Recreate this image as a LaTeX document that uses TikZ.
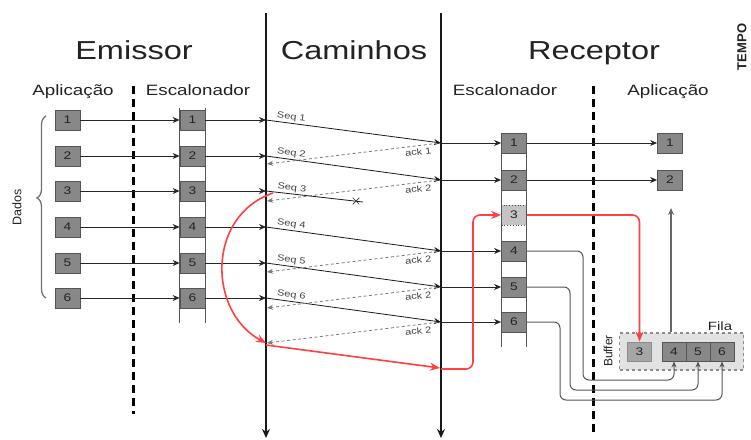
\documentclass[tikz,border=0pt]{standalone}
\usepackage{fontspec}
\setmainfont{Liberation Sans}[FakeStretch=1.25]
\newfontfamily\rotfont{Liberation Sans}
\usetikzlibrary{arrows.meta,decorations.pathreplacing,calc,shapes.misc}
\definecolor{boxfill}{HTML}{888888}
\definecolor{boxline}{HTML}{555555}
\definecolor{lightfill}{HTML}{C4C4C4}
\definecolor{buffill}{HTML}{E2E2E2}
\definecolor{redline}{HTML}{FF4040}
\definecolor{ackcol}{HTML}{7A7A7A}
\definecolor{txt}{HTML}{222222}
\begin{document}
\begin{tikzpicture}[x=1pt,y=-1pt,
  pkt/.style={draw=boxline, fill=boxfill, minimum width=25pt, minimum height=20pt, inner sep=0pt,
    font=\fontsize{11}{11}\selectfont, text=txt, line width=0.8pt},
  lightpkt/.style={pkt, fill=lightfill, dotted, draw=black!70},
  bufpkt/.style={pkt, minimum width=24pt, minimum height=19pt},
  title/.style={font=\fontsize{26}{28}\selectfont, text=txt, anchor=base, inner sep=0pt},
  subtitle/.style={font=\fontsize{15}{17}\selectfont, text=txt, anchor=base, inner sep=0pt},
  arr/.style={-{Stealth[length=7pt,width=6pt]}, line width=0.8pt, draw=black!85},
  seqarr/.style={-{Stealth[length=7pt,width=6pt]}, line width=0.8pt, draw=black!90},
  ackarr/.style={{Stealth[length=6pt,width=5pt]}-, line width=0.8pt, draw=ackcol, dash pattern=on 3pt off 2.5pt},
  seqlbl/.style={font=\fontsize{8.8}{9}\selectfont, text=black!75, inner sep=1pt},
  timeline/.style={-{Stealth[length=9pt,width=8pt]}, line width=1.8pt, draw=black!90},
  sepline/.style={line width=3pt, draw=black, dash pattern=on 8pt off 5pt},
  colline/.style={line width=1pt, draw=boxline},
  redarr/.style={-{Stealth[length=10pt,width=8pt]}, line width=1.6pt, draw=redline},
  gline/.style={-{Stealth[length=6pt,width=5pt]}, line width=1pt, draw=boxline, rounded corners=6pt},
  lbl/.style={font=\fontsize{12}{13}\selectfont, text=txt, inner sep=0pt}
]
\useasboundingbox (0,0) rectangle (751,439);

% titles
\node[title] (emissor) at (134,59) {Emissor};
\node[title] (caminhos) at (354,59) {Caminhos};
\node[title] (receptor) at (594,59) {Receptor};
\node[font=\rotfont\bfseries\fontsize{13}{13}\selectfont, rotate=90, text=txt, inner sep=0pt] (tempo) at (742,47) {TEMPO};
\node[subtitle] (sapl) at (73,95) {Aplicação};
\node[subtitle] (sesc) at (198,95) {Escalonador};
\node[subtitle] (resc) at (505,95) {Escalonador};
\node[subtitle] (rapl) at (668,95) {Aplicação};

% separators
\coordinate (s1t) at (133,86); \coordinate (s1b) at (133,414);
\coordinate (s2t) at (593,86); \coordinate (s2b) at (593,432);
\draw[sepline] (s1t) -- (s1b);
\draw[sepline] (s2t) -- (s2b);

% time lines
\coordinate (t1t) at (266,13); \coordinate (t1b) at (266,438);
\coordinate (t2t) at (441,13); \coordinate (t2b) at (441,438);
\draw[timeline] (t1t) -- (t1b);
\draw[timeline] (t2t) -- (t2b);

% sender
\foreach \i/\y in {1/120,2/156,3/191,4/227,5/263,6/298}{
  \node[pkt] (sa\i) at (67.5,\y) {\i};
  \node[pkt] (ss\i) at (192.5,\y) {\i};
  \coordinate (L\i) at (266,\y);
}
\draw[colline] ($(ss1.north west)+(0,-2)$) -- ($(ss6.south west)+(0,15)$);
\draw[colline] ($(ss1.north east)+(0,-2)$) -- ($(ss6.south east)+(0,15)$);
\foreach \i in {1,...,6}{
  \draw[arr] (sa\i) -- (ss\i);
  \draw[arr] (ss\i) -- (L\i);
}
% brace
\coordinate (brb) at (46,298); \coordinate (brt) at (46,116);
\draw[decorate, decoration={brace, amplitude=9pt, aspect=0.55}, line width=1.3pt, draw=black!55] (brb) -- (brt);
\node[font=\rotfont\fontsize{12.5}{13}\selectfont, rotate=90, text=txt, inner sep=0pt] (dados) at (17,207) {Dados};

% receptor
\foreach \i/\y in {1/143,2/180,3/215,4/251,5/287,6/322}{
  \coordinate (M\i) at (441,\y);
}
\foreach \i/\y in {1/143,2/180,4/251,5/287,6/322}{
  \node[pkt] (rb\i) at (514,\y) {\i};
}
\node[lightpkt] (rb3) at (514,215) {3};
\draw[colline] (rb1.north west) -- ($(rb6.south west)+(0,15)$);
\draw[colline] (rb1.north east) -- ($(rb6.south east)+(0,15)$);
\node[pkt] (ra1) at (670,143) {1};
\node[pkt] (ra2) at (670,180) {2};

% seq arrows
\foreach \i in {1,2,4,5,6}{
  \draw[seqarr] (L\i) -- node[seqlbl, pos=0.14, above=0.5pt, sloped] {Seq \i} (M\i);
  \draw[arr] (M\i) -- (rb\i);
}
\coordinate (lost) at (363,202);
\draw[line width=0.8pt, draw=black!90] (L3) -- node[seqlbl, pos=0.26, above=0.5pt, sloped] {Seq 3} (lost);
\node[draw=black!80, cross out, minimum size=6pt, inner sep=0pt, line width=0.7pt] (xmark) at (356,201) {};

% acks
\foreach \n/\y/\t in {a1/143/ack 1,a2/180/ack 2,a4/251/ack 2,a5/287/ack 2,a6/322/ack 2}{
  \coordinate (\n l) at (267,\y+21);
  \coordinate (\n r) at (440,\y);
  \draw[ackarr] (\n l) -- node[seqlbl, pos=0.87, below=1.5pt, sloped] {\t} (\n r);
}

% to receptor app
\draw[arr] (rb1) -- (ra1);
\draw[arr] (rb2) -- (ra2);

% buffer
\node[draw=black!45, fill=buffill, dashed, line width=1.5pt, minimum width=124pt, minimum height=37pt, inner sep=0pt] (buf) at (681.5,351.5) {};
\node[bufpkt, fill=black!35, draw=black!45] (bf3) at (639.5,351.5) {3};
\node[bufpkt] (bf4) at (674,351.5) {4};
\node[bufpkt] (bf5) at (698,351.5) {5};
\node[bufpkt] (bf6) at (722,351.5) {6};
\node[lbl, font=\rotfont\fontsize{12}{13}\selectfont, rotate=90] (buflbl) at (608,351) {Buffer};
\node[lbl] (fila) at (720,326) {Fila};

% up arrow
\coordinate (upend) at (671,208);
\draw[-{Stealth[length=7pt,width=6pt]}, line width=1.2pt, draw=black!60] (buf.north -| upend) -- (upend);

% gray queue paths
\draw[gline] (rb4.east) -- (583,251) -- (583,380) -- (674,380) -- (bf4.south);
\draw[gline] (rb5.east) -- (570,287) -- (570,390) -- (698,390) -- (bf5.south);
\draw[gline] (rb6.east) -- (560,322) -- (560,400) -- (722,400) -- (bf6.south);

% red retransmission
\coordinate (rs) at (273,193);
\coordinate (re) at (266,343);
\draw[redarr] (rs) .. controls (206,216) and (208,312) .. (re);
\coordinate (re2) at (266,345);
\coordinate (M7) at (440,368);
\draw[redarr] (re2) -- (M7);
\draw[redarr, rounded corners=7pt] (441,369) -- ++(32,0) |- (rb3.west);
\draw[redarr, rounded corners=7pt] (rb3.east) -| (bf3.north);
\end{tikzpicture}
\end{document}
